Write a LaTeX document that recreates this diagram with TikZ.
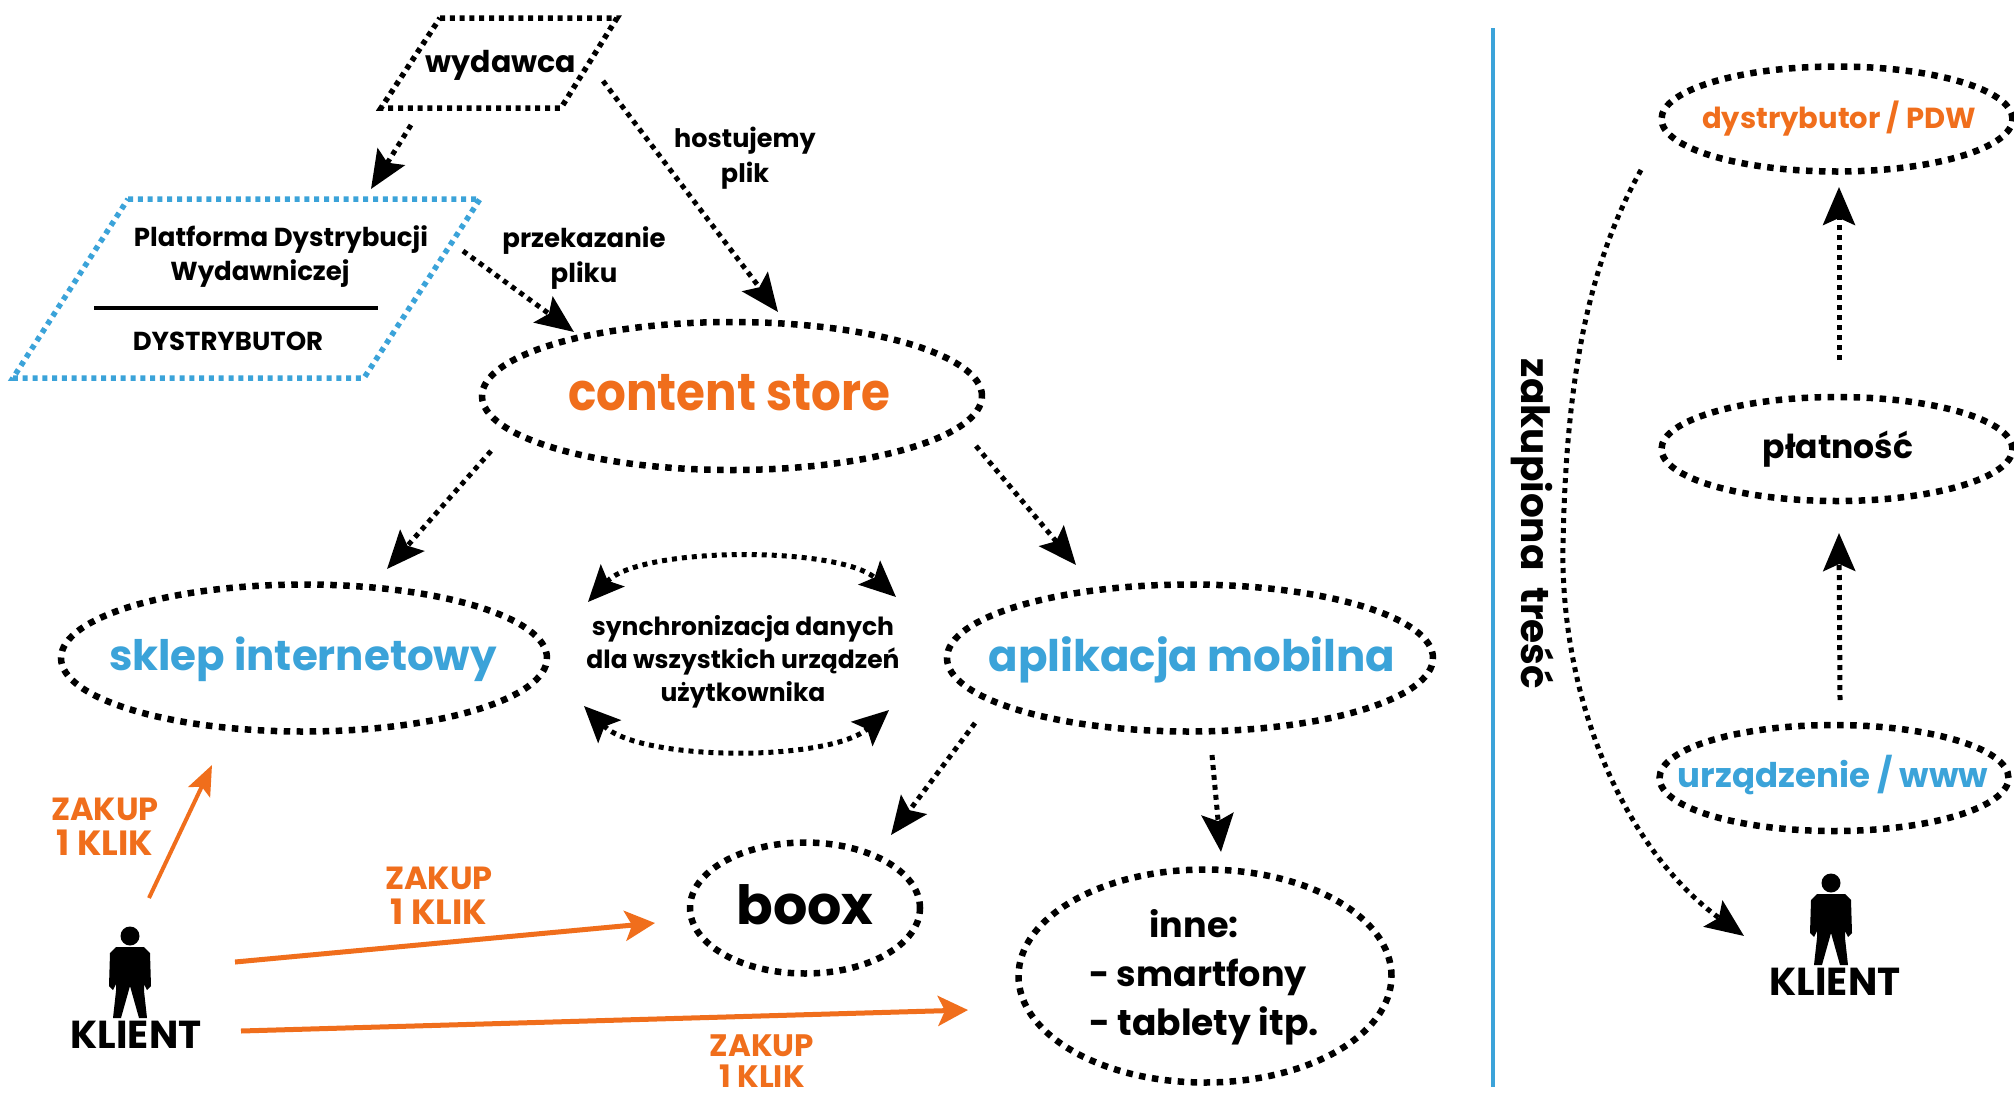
\documentclass[tikz,border=0pt]{standalone}
\usepackage{fontspec}
\setmainfont{Poppins}[BoldFont=* Bold]
\usetikzlibrary{arrows.meta,calc,shapes.geometric}
\definecolor{orng}{HTML}{F06E1C}
\definecolor{blu}{HTML}{3BA3D9}
\tikzset{
  lbl/.style={font=\bfseries\fontsize{#1}{#1}\selectfont,inner sep=0pt,outer sep=0pt},
  oval/.style={shape=ellipse,draw=black,line width=6.5pt,dash pattern=on 6.5pt off 6.5pt,inner sep=0pt,outer sep=0pt},
  para/.style={line width=5.5pt,dash pattern=on 5pt off 4.8pt},
  conn/.style={draw=black,line width=5pt,dash pattern=on 5pt off 5pt,-{Stealth[length=38pt,width=32pt,inset=7pt]}},
  sync/.style={draw=black,line width=5pt,dash pattern=on 5pt off 5pt,{Stealth[length=36pt,width=32pt,inset=7pt]}-{Stealth[length=36pt,width=32pt,inset=7pt]}},
  buy/.style={draw=orng,line width=5pt,-{Stealth[length=30pt,width=30pt,inset=7pt]}},
  man/.pic={
    \fill (0,0) circle[radius=9.5];
    \fill (-14,11) -- (14,11) -- (20,17) -- (21,50) -- (17,54) -- (14,48) -- (14,55) -- (17,82) -- (9,82) -- (0,50) -- (-9,82) -- (-17,82) -- (-14,55) -- (-14,48) -- (-17,54) -- (-21,50) -- (-20,17) -- cycle;
  }
}
\begin{document}
\begin{tikzpicture}[x=1pt,y=-1pt]
\useasboundingbox[fill=white] (0,0) rectangle (2014,1098);
% parallelograms
\coordinate (wydawca) at (499,63);
\coordinate (pdw) at (246.5,288.5);
\draw[para,draw=black] (440,18) -- (617,18) -- (561,108) -- (381,108) -- cycle;
\node[lbl=30] (wydawcat) at (501,65) {wydawca};
\draw[para,draw=blu] (128,199) -- (480,199) -- (364,378) -- (13,378) -- cycle;
\node[lbl=26] (pdw1) at (281,239.5) {Platforma Dystrybucji};
\node[lbl=26] (pdw2) at (260,273.5) {Wydawniczej};
\draw[line width=3.5pt] (pdw)+(-152.5,19.5) coordinate (rulea) -- +(131.5,19.5) coordinate (ruleb);
\node[lbl=26] (pdw3) at (228,341) {DYSTRYBUTOR};
% ellipses
\node[oval,minimum width=500pt,minimum height=148pt] (store) at (732,396) {};
\node[lbl=52,text=orng] (storet) at (729,393) {\scalebox{.9}[1]{content store}};
\node[oval,minimum width=486pt,minimum height=147pt] (sklep) at (304,658) {};
\node[lbl=42,text=blu] (sklept) at (303,659.5) {sklep internetowy};
\node[oval,minimum width=486pt,minimum height=147pt] (aplik) at (1190,658) {};
\node[lbl=43.5,text=blu] (aplikt) at (1192,659.5) {aplikacja mobilna};
\node[oval,minimum width=230pt,minimum height=131pt] (boox) at (805,908) {};
\node[lbl=54] (booxt) at (805,905) {boox};
\node[oval,minimum width=373pt,minimum height=213pt] (inne) at (1205,976) {};
\node[lbl=35] (inne1) at (1194,924) {inne:};
\node[lbl=35,anchor=west] (inne2) at (1089,977) {- smartfony};
\node[lbl=36,anchor=west] (inne3) at (1089,1026) {- tablety itp.};
\node[oval,minimum width=351pt,minimum height=105pt] (dist) at (1837,119) {};
\node[lbl=29,text=orng] (distt) at (1839,119) {dystrybutor / PDW};
\node[oval,minimum width=351pt,minimum height=104pt] (platn) at (1837,449) {};
\node[lbl=33] (platnt) at (1838,449) {płatność};
\node[oval,minimum width=349pt,minimum height=106pt] (urz) at (1834,778) {};
\node[lbl=34,text=blu] (urzt) at (1833,775) {urządzenie / www};
% free labels
\node[lbl=25.5] (host1) at (745,141) {hostujemy};
\node[lbl=25.5] (host2) at (745,176) {plik};
\node[lbl=26] (prze1) at (584,241) {przekazanie};
\node[lbl=26] (prze2) at (584,276) {pliku};
\node[lbl=25] (syn1) at (743,628.5) {synchronizacja danych};
\node[lbl=25] (syn2) at (743,661.5) {dla wszystkich urządzeń};
\node[lbl=25] (syn3) at (743,694.5) {użytkownika};
\node[lbl=32,text=orng] (zk1a) at (105,809) {ZAKUP};
\node[lbl=35,text=orng] (zk1b) at (105,843) {1 KLIK};
\node[lbl=32,text=orng] (zk2a) at (439,878) {ZAKUP};
\node[lbl=35,text=orng] (zk2b) at (439,912) {1 KLIK};
\node[lbl=31,text=orng] (zk3a) at (762,1046) {ZAKUP};
\node[lbl=31,text=orng] (zk3b) at (762,1076) {1 KLIK};
\node[lbl=39] (klientL) at (136,1035) {KLIENT};
\node[lbl=39] (klientR) at (1835,982) {KLIENT};
\node[lbl=39,rotate=-90] (zak) at (1533,524) {zakupiona\ \ treść};
\pic at (130,936) {man};
\pic at (1831,883) {man};
% divider
\draw[blu,line width=4.5pt] (1493,28) coordinate (diva) -- (1493,1087) coordinate (divb);
% connectors
\draw[conn] ($(wydawca)+(-88,62)$) -- ($(pdw)+(124.5,-99.5)$);
\draw[conn] ($(wydawca)+(104,18)$) -- ($(store)+(46,-84)$);
\draw[conn] ($(pdw)+(216.5,-37.5)$) -- ($(store)+(-158,-64)$);
\draw[conn] ($(store)+(-241,55)$) -- ($(sklep)+(83,-89)$);
\draw[conn] ($(store)+(244,50)$) -- ($(aplik)+(-114,-93)$);
\draw[conn] ($(aplik)+(-215,65)$) -- ($(boox)+(86,-73)$);
\draw[conn] ($(aplik)+(22,97)$) -- ($(inne)+(16,-124)$);
\draw[conn] ($(urz)+(6,-78)$) -- ($(platn)+(2,84)$);
\draw[conn] ($(platn)+(2,-89)$) -- ($(dist)+(2,68)$);
\draw[conn] ($(dist)+(-196,51)$) .. controls (1585,270) and (1566,390) .. (1563,544) .. controls (1560,700) and (1625,850) .. ($(klientR)+(-91,-46)$);
% sync arcs
\coordinate (s1) at (588,602); \coordinate (s2) at (896,597);
\coordinate (s3) at (584,706); \coordinate (s4) at (889,710);
\draw[sync] (s1) .. controls (640,546) and (840,546) .. (s2);
\draw[sync] (s3) .. controls (640,762) and (830,762) .. (s4);
% purchases
\draw[buy,line width=4pt,-{Stealth[length=30pt,width=24pt,inset=6pt]}] ($(klientL)+(13,-137)$) -- ($(sklep)+(-92,107)$);
\draw[buy] ($(klientL)+(99,-73)$) -- ($(boox)+(-150,15)$);
\draw[buy] ($(klientL)+(105,-4)$) -- ($(inne)+(-237,34)$);
\end{tikzpicture}
\end{document}
